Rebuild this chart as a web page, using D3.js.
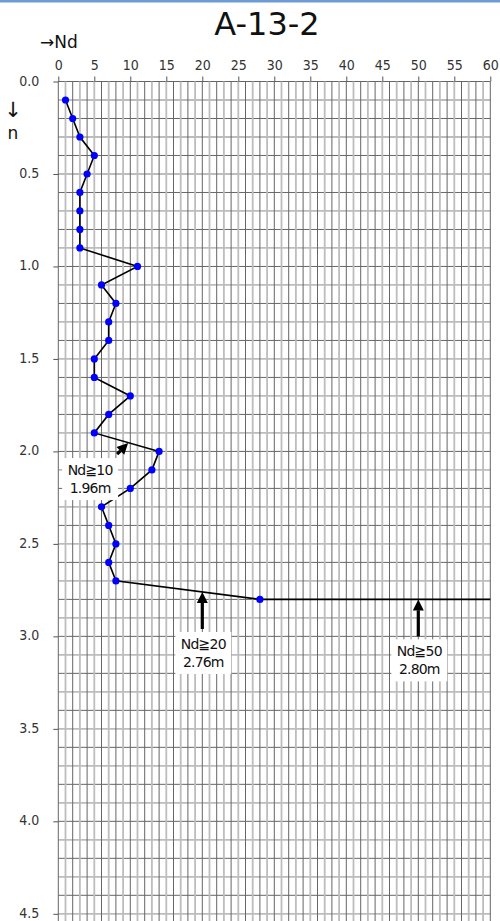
<!DOCTYPE html>
<html>
<head>
<meta charset="utf-8">
<script src="https://cdn.jsdelivr.net/npm/d3@7"></script>
<style>
  html, body { margin: 0; padding: 0; background: #fff; }
  svg { display: block; }
</style>
</head>
<body>
<div id="chart"></div>
<script>
// SPT profile data: depth (m) and Nd blow counts
const depths = [0.1, 0.2, 0.3, 0.4, 0.5, 0.6, 0.7, 0.8, 0.9, 1.0,
                1.1, 1.2, 1.3, 1.4, 1.5, 1.6, 1.7, 1.8, 1.9, 2.0,
                2.1, 2.2, 2.3, 2.4, 2.5, 2.6, 2.7, 2.8];
const ndValues = [1, 2, 3, 5, 4, 3, 3, 3, 3, 11,
                  6, 8, 7, 7, 5, 5, 10, 7, 5, 14,
                  13, 10, 6, 7, 8, 7, 8, 28];
// refusal line continues at the last depth to the right edge
const extensionNd = [28, 60];

const xTicks = [0, 5, 10, 15, 20, 25, 30, 35, 40, 45, 50, 55, 60];
const yTicks = [0.0, 0.5, 1.0, 1.5, 2.0, 2.5, 3.0, 3.5, 4.0, 4.5];

// threshold annotations
const annoNd = [9.7, 20, 50];
const annoDepth = [1.955, 2.76, 2.8];
const annoTitle = ["Nd≧10", "Nd≧20", "Nd≧50"];
const annoSub = ["1.96m", "2.76m", "2.80m"];

const title = "A-13-2";

const width = 500, height = 921;

const svg = d3.select("#chart").append("svg")
    .attr("width", width)
    .attr("height", height);

const x = d3.scaleLinear().domain([0, 60]).range([58.3, 490.3]);
const y = d3.scaleLinear().domain([0, 4.5]).range([81.5, 913.8]);

// top blue border
svg.append("rect")
    .attr("x", 0).attr("y", 0)
    .attr("width", width).attr("height", 2.5)
    .attr("fill", "#6d9bd3");

// grid (1 unit by 0.1 m)
const grid = svg.append("g");
const vLines = d3.range(0, 61);
const hLines = d3.range(0, 46).map(i => i / 10);

grid.selectAll("line.h")
    .data(hLines)
    .join("line")
    .attr("class", "h")
    .attr("x1", x(0)).attr("x2", x(60))
    .attr("y1", d => y(d)).attr("y2", d => y(d))
    .attr("stroke", (d, i) => i % 2 ? "#bdbdbd" : "#666")
    .attr("stroke-width", (d, i) => i % 2 ? 1.8 : 1);

grid.selectAll("line.v")
    .data(vLines)
    .join("line")
    .attr("class", "v")
    .attr("x1", d => x(d)).attr("x2", d => x(d))
    .attr("y1", y(0)).attr("y2", height)
    .attr("stroke", (d, i) => i % 2 ? "#bdbdbd" : "#666")
    .attr("stroke-width", (d, i) => i % 2 ? 1.8 : 1);

const tickFont = "'DejaVu Sans Condensed', 'DejaVu Sans', sans-serif";

// top axis
svg.append("g")
    .attr("transform", `translate(0,${y(0)})`)
    .call(d3.axisTop(x).tickValues(xTicks).tickSize(5).tickPadding(7).tickFormat(d3.format("d")))
    .call(g => g.select(".domain").remove())
    .call(g => g.selectAll(".tick line").attr("stroke", "#555"))
    .call(g => g.selectAll(".tick text")
        .attr("font-family", tickFont)
        .attr("font-stretch", "condensed")
        .attr("font-size", 14)
        .attr("fill", "#333"));

// left axis
svg.append("g")
    .attr("transform", `translate(${x(0)},0)`)
    .call(d3.axisLeft(y).tickValues(yTicks).tickSize(5).tickPadding(14).tickFormat(d3.format(".1f")))
    .call(g => g.select(".domain").remove())
    .call(g => g.selectAll(".tick line").attr("stroke", "#555"))
    .call(g => g.selectAll(".tick text")
        .attr("font-family", tickFont)
        .attr("font-stretch", "condensed")
        .attr("font-size", 14)
        .attr("dy", "0.25em")
        .attr("fill", "#333"));

// title and axis captions
svg.append("text")
    .attr("x", 267).attr("y", 35)
    .attr("text-anchor", "middle")
    .attr("font-family", "'DejaVu Sans', Verdana, sans-serif")
    .attr("font-size", 32)
    .attr("fill", "#111")
    .text(title);

svg.append("text")
    .attr("x", 40).attr("y", 48)
    .attr("font-family", "'DejaVu Sans', Verdana, sans-serif")
    .attr("font-size", 17)
    .attr("fill", "#111")
    .text("→Nd");

svg.append("text")
    .attr("x", 13).attr("y", 117)
    .attr("text-anchor", "middle")
    .attr("font-family", "'DejaVu Sans', Verdana, sans-serif")
    .attr("font-size", 21)
    .attr("fill", "#111")
    .text("↓");

svg.append("text")
    .attr("x", 13).attr("y", 139)
    .attr("text-anchor", "middle")
    .attr("font-family", "'DejaVu Sans', Verdana, sans-serif")
    .attr("font-size", 17)
    .attr("fill", "#111")
    .text("n");

// profile line
const pts = depths.map((d, i) => ({ depth: d, nd: ndValues[i] }));
const lastDepth = depths[depths.length - 1];
const linePts = pts.concat([{ depth: lastDepth, nd: extensionNd[1] }]);

const line = d3.line()
    .x(d => x(d.nd))
    .y(d => y(d.depth));

svg.append("path")
    .datum(linePts)
    .attr("fill", "none")
    .attr("stroke", "#000")
    .attr("stroke-width", 1.6)
    .attr("d", line);

svg.append("g")
    .selectAll("circle")
    .data(pts)
    .join("circle")
    .attr("cx", d => x(d.nd))
    .attr("cy", d => y(d.depth))
    .attr("r", 3.6)
    .attr("fill", "#0000ff");

// annotations: arrow + boxed label
const annoFont = "'DejaVu Sans', Verdana, sans-serif";
const annos = annoNd.map((n, i) => ({ nd: n, depth: annoDepth[i], t1: annoTitle[i], t2: annoSub[i] }));

function arrow(g, x1, y1, x2, y2) {
    // shaft from (x1,y1) to head tip (x2,y2)
    const ang = Math.atan2(y2 - y1, x2 - x1);
    const hl = 11, hw = 5.5;
    const bx = x2 - hl * Math.cos(ang), by = y2 - hl * Math.sin(ang);
    g.append("line")
        .attr("x1", x1).attr("y1", y1)
        .attr("x2", bx).attr("y2", by)
        .attr("stroke", "#000").attr("stroke-width", 3.2);
    const px = -Math.sin(ang) * hw, py = Math.cos(ang) * hw;
    g.append("path")
        .attr("d", `M${x2},${y2}L${bx + px},${by + py}L${bx - px},${by - py}Z`)
        .attr("fill", "#000");
}

const annoG = svg.append("g");
annos.forEach((a, i) => {
    const tx = x(a.nd), ty = y(a.depth);
    const g = annoG.append("g");
    let lx, ly;
    if (i === 0) {
        arrow(g, tx - 11, ty + 11, tx, ty);
        lx = tx - 38; ly = ty + 15;
    } else {
        arrow(g, tx, ty + 37, tx, ty);
        lx = tx + 1; ly = ty + 40;
    }
    g.append("rect")
        .attr("x", lx - 28).attr("y", ly)
        .attr("width", 56).attr("height", 42)
        .attr("fill", "#fff");
    g.append("text")
        .attr("x", lx).attr("y", ly + 17)
        .attr("text-anchor", "middle")
        .attr("font-family", annoFont)
        .attr("font-size", 14)
        .attr("letter-spacing", -0.8)
        .attr("fill", "#111")
        .text(a.t1);
    g.append("text")
        .attr("x", lx).attr("y", ly + 35)
        .attr("text-anchor", "middle")
        .attr("font-family", annoFont)
        .attr("font-size", 14)
        .attr("letter-spacing", -0.8)
        .attr("fill", "#111")
        .text(a.t2);
});
</script>
</body>
</html>
